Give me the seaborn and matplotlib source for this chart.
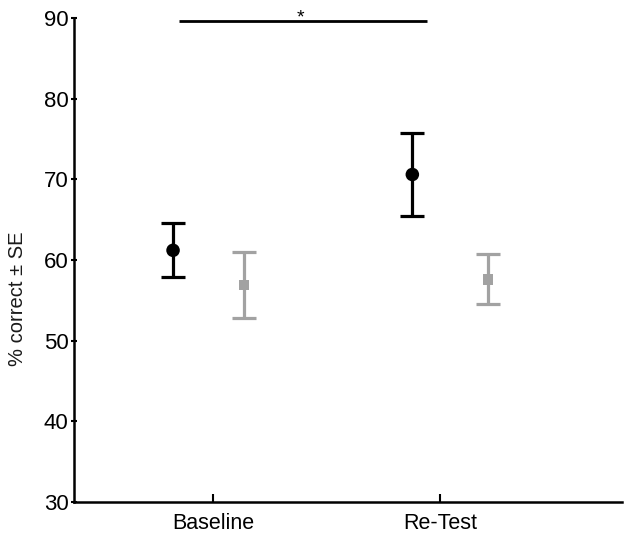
import numpy as np
import pandas as pd
import matplotlib
matplotlib.use('Agg')
import matplotlib.pyplot as plt
import seaborn as sns

# data
sessions = ['Baseline', 'Re-Test']
group_a_mean = [61.2, 70.6]   # black circles
group_a_se = [3.35, 5.1]
group_b_mean = [56.9, 57.6]   # grey squares
group_b_se = [4.05, 3.1]

# horizontal offsets of each group from the category tick
a_offset = [-0.176, -0.123]
b_offset = [0.137, 0.211]

sns.set_style('ticks')
plt.rcParams['font.family'] = ['Liberation Sans', 'DejaVu Sans']

df = pd.DataFrame({
    'session': sessions * 2,
    'x': list(np.arange(2) + np.array(a_offset)) + list(np.arange(2) + np.array(b_offset)),
    'mean': group_a_mean + group_b_mean,
    'se': group_a_se + group_b_se,
    'group': ['A', 'A', 'B', 'B'],
})

fig = plt.figure(figsize=(6.29, 5.41), dpi=100)
ax = fig.add_axes([0.1176, 0.0721, 0.8714, 0.8946])

colors = {'A': 'black', 'B': '#a2a2a2'}
for g, sub in df.groupby('group'):
    ax.errorbar(sub['x'], sub['mean'], yerr=sub['se'], fmt='none',
                ecolor=colors[g], elinewidth=2.3, capsize=8.5, capthick=2.3, zorder=2)

sns.scatterplot(data=df, x='x', y='mean', hue='group', style='group',
                palette=colors, markers={'A': 'o', 'B': 's'},
                size='group', sizes={'A': 95, 'B': 55},
                edgecolor='none', legend=False, ax=ax, zorder=3)

# significance bar
ax.plot([-0.15, 0.943], [89.6, 89.6], color='black', lw=2, solid_capstyle='butt')
ax.text(0.383, 89.5, '*', ha='center', va='baseline', fontsize=14, color='black')

ax.set_xlim(-0.612, 1.80)
ax.set_ylim(30, 90)
ax.set_xticks([0, 1])
ax.set_xticklabels(sessions, fontsize=15.5)
ax.set_yticks(range(30, 91, 10))
ax.tick_params(axis='y', labelsize=16, direction='inout', length=4, width=1.5, pad=2,
               colors='black')
ax.tick_params(axis='x', direction='in', length=6, width=1.5, pad=8, colors='black')
ax.set_xlabel('')
ax.set_ylabel('% correct ± SE', fontsize=14.5, color='#1a1a1a')
ax.yaxis.set_label_coords(-0.086, 0.42)
for s in ['top', 'right']:
    ax.spines[s].set_visible(False)
for s in ['left', 'bottom']:
    ax.spines[s].set_linewidth(1.8)
    ax.spines[s].set_color('black')

plt.savefig('out.png', dpi=100)
